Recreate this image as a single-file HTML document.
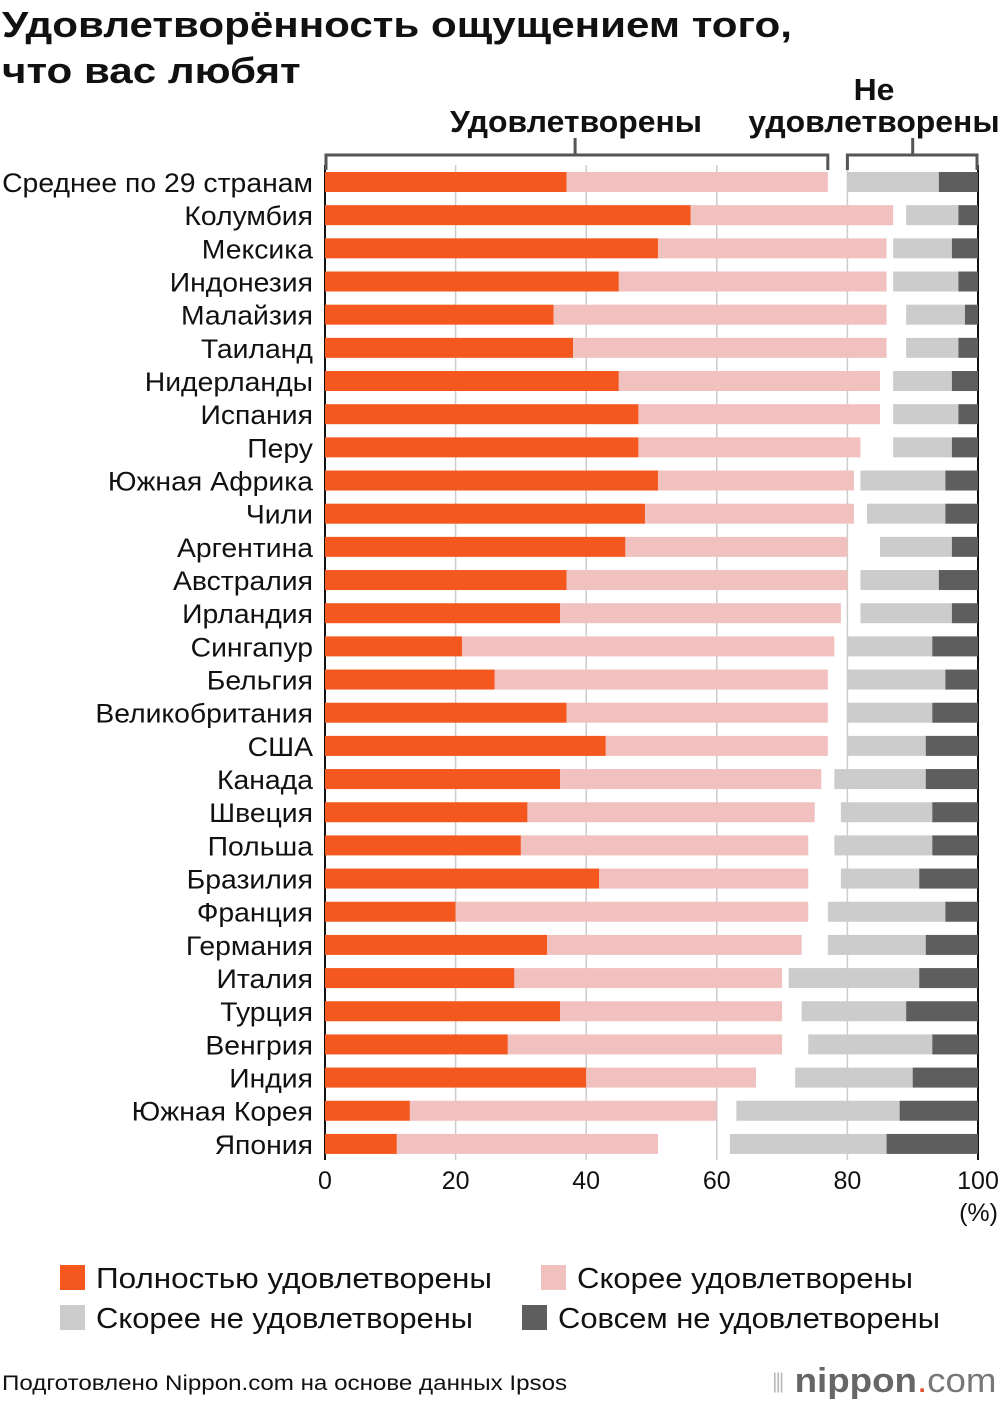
<!DOCTYPE html>
<html><head><meta charset="utf-8"><style>
body{margin:0;background:#fff;font-family:"Liberation Sans","Noto Sans CJK SC",sans-serif;}
#wrap{position:relative;width:1000px;height:1408px;overflow:hidden;}
.t{position:absolute;color:#111;white-space:nowrap;transform-origin:0 0;}
</style></head><body><div id="wrap">
<div class="t" style="left:2px;top:2px;font-size:36px;font-weight:bold;line-height:46px;transform:scaleX(1.17)">Удовлетворённость ощущением того,<br>что вас любят</div>
<svg id="chart" width="1000" height="1408" style="position:absolute;left:0;top:0"></svg>
<div class="t" style="left:2px;top:1372px;font-size:21px;transform:scaleX(1.15)">Подготовлено Nippon.com на основе данных Ipsos</div>
<div class="t" style="left:772px;top:1362px;font-size:34px;color:#777;transform:scaleX(1.08)"><span style="color:#bbb;font-size:26px">⦀</span> <b style="color:#666">nippon</b><span style="color:#e05030">.</span>com</div>
<script>
const countries=["Среднее по 29 странам","Колумбия","Мексика","Индонезия","Малайзия","Таиланд","Нидерланды","Испания","Перу","Южная Африка","Чили","Аргентина","Австралия","Ирландия","Сингапур","Бельгия","Великобритания","США","Канада","Швеция","Польша","Бразилия","Франция","Германия","Италия","Турция","Венгрия","Индия","Южная Корея","Япония"];
const fully=[37,56,51,45,35,38,45,48,48,51,49,46,37,36,21,26,37,43,36,31,30,42,20,34,29,36,28,40,13,11];
const rather=[40,31,35,41,51,48,40,37,34,30,32,34,43,43,57,51,40,34,40,44,44,32,54,39,41,34,42,26,47,40];
const ratherNot=[14,8,9,10,9,8,9,10,9,13,12,11,12,14,13,15,13,12,14,14,15,12,18,15,20,16,19,18,25,24];
const notAtAll=[6,3,4,3,2,3,4,3,4,5,5,4,6,4,7,5,7,8,8,7,7,9,5,8,9,11,7,10,12,14];
const ticks=[0,20,40,60,80,100];
const NS="http://www.w3.org/2000/svg";
const svg=document.getElementById('chart');
const x0=325,x1=978;
const X=v=>x0+(x1-x0)*v/100;
const rowY=i=>182+i*33.17;
const BH=20;
function mk(tag,a,p){const e=document.createElementNS(NS,tag);for(const k in a)e.setAttribute(k,a[k]);(p||svg).appendChild(e);return e;}
ticks.forEach(t=>{
 const l=mk('line',{x1:X(t),x2:X(t),y1:165,y2:1160,stroke:(t==0||t==100)?'#111':'#ccc','stroke-width':(t==0||t==100)?2:1.5});
 
 
 const tx=mk('text',{x:X(t),y:1189,'text-anchor':'middle','font-size':25,fill:'#111'});
 tx.textContent=t;
 
 
});
const pct=mk('text',{x:998,y:1221,'text-anchor':'end','font-size':25,fill:'#111'});pct.textContent='(%)';


countries.forEach((c,i)=>{
 const y=rowY(i)-BH/2;
 const g=mk('g',{});
 
 
 const a=fully[i],b=a+rather[i],d=100-notAtAll[i],cc=d-ratherNot[i];
 const segs=[[0,a,'#f4581f','full'],[a,b,'#f0c1bf','rather'],[cc,d,'#cccccc','rather-not'],[d,100,'#5e5e5e','not-at-all']];
 segs.forEach(s=>{const r=mk('rect',{x:X(s[0]),y:y,width:X(s[1])-X(s[0]),height:BH,fill:s[2]},g);
  
  });
 const lb=mk('text',{x:313,y:rowY(i)+10,'text-anchor':'end','font-size':27,fill:'#111',transform:`translate(313 0) scale(1.05 1) translate(-313 0)`});
 lb.textContent=c;
 
 
});
const br=mk('path',{d:`M${X(0)+1},170 V155 H${X(77)} V170 M${X(38.3)},155 V138 M${X(80)},170 V155 H${X(100)-1} V170 M${X(90)},155 V138`,fill:'none',stroke:'#555','stroke-width':3});


[['Удовлетворены',576,132],['Не',874,100],['удовлетворены',874,132]].forEach(h=>{
 const t=mk('text',{x:h[1],y:h[2],'text-anchor':'middle','font-size':31,'font-weight':'bold',fill:'#111',transform:`translate(${h[1]} 0) scale(1.03 1) translate(${-h[1]} 0)`});t.textContent=h[0];
 
 
});
[['#f4581f','Полностью удовлетворены',60,1265,396],['#f0c1bf','Скорее удовлетворены',541,1265,336],['#cccccc','Скорее не удовлетворены',60,1305,377],['#5e5e5e','Совсем не удовлетворены',522,1305,382]].forEach(l=>{
 const g=mk('g',{});
 
 
 mk('rect',{x:l[2],y:l[3],width:25,height:25,fill:l[0]},g);
 const t=mk('text',{x:l[2]+36,y:l[3]+23,'font-size':29,fill:'#111',textLength:l[4],lengthAdjust:'spacingAndGlyphs'},g);t.textContent=l[1];
});
</script>
</div></body></html>
